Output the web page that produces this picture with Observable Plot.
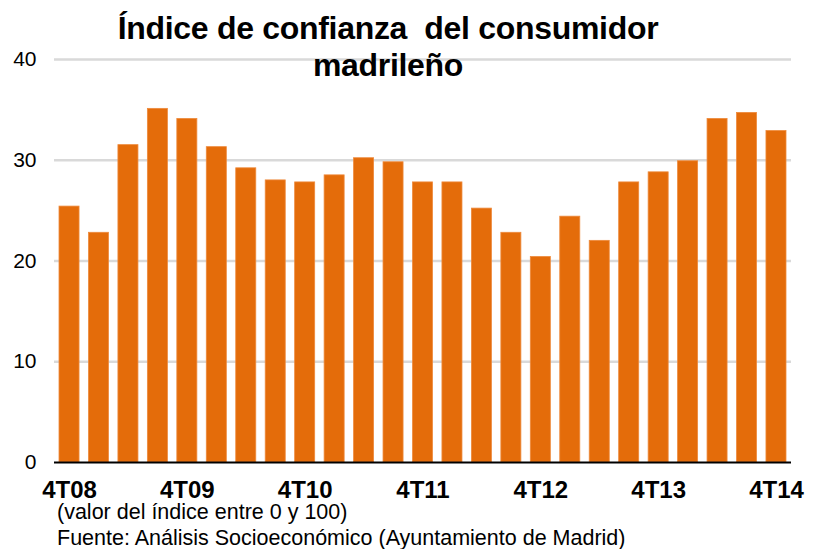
<!DOCTYPE html>
<html>
<head>
<meta charset="utf-8">
<script src="https://cdn.jsdelivr.net/npm/d3@7"></script>
<script src="https://cdn.jsdelivr.net/npm/@observablehq/plot@0.6"></script>
<style>
  html, body { margin: 0; padding: 0; background: #fff; }
  #wrap { position: relative; width: 814px; height: 549px; overflow: hidden; font-family: "Liberation Sans", Arial, sans-serif; }
  #title { position: absolute; left: 0; width: 776px; top: 10px; text-align: center; font-weight: bold; font-size: 32px; line-height: 37px; color: #000; z-index: 2; letter-spacing: -0.3px; }
  .note { position: absolute; left: 57px; font-size: 21.5px; line-height: 20px; color: #000; z-index: 2; font-family: "Liberation Sans Narrow", "Liberation Sans", sans-serif; white-space: nowrap; }
  #chart { position: absolute; left: 0; top: 0; }
</style>
</head>
<body>
<div id="wrap">
  <div id="chart"></div>
  <div id="title">Índice de confianza&nbsp; del consumidor<br>madrileño</div>
  <div class="note" style="top:502px">(valor del índice entre 0 y 100)</div>
  <div class="note" style="top:528px">Fuente: Análisis Socioeconómico (Ayuntamiento de Madrid)</div>
</div>
<script>
const quarters = ["4T08","1T09","2T09","3T09","4T09","1T10","2T10","3T10","4T10","1T11","2T11","3T11","4T11","1T12","2T12","3T12","4T12","1T13","2T13","3T13","4T13","1T14","2T14","3T14","4T14"];
const values = [25.4,22.8,31.5,35.1,34.1,31.3,29.2,28.0,27.8,28.5,30.2,29.8,27.8,27.8,25.2,22.8,20.4,24.4,22.0,27.8,28.8,29.9,34.1,34.7,32.9];
const xTickLabels = ["4T08","4T09","4T10","4T11","4T12","4T13","4T14"];
const yTicks = [0,10,20,30,40];

const data = quarters.map((q, i) => ({q, v: values[i]}));

const chart = Plot.plot({
  width: 814,
  height: 549,
  marginLeft: 54,
  marginRight: 23,
  marginTop: 59,
  marginBottom: 87,
  style: {fontFamily: "Liberation Sans, Arial, sans-serif", background: "transparent"},
  x: {domain: quarters, paddingInner: 0.32, paddingOuter: 0.17, round: false, label: null},
  y: {domain: [0, 40], label: null},
  marks: [
    Plot.ruleY(yTicks.filter(d => d > 0), {stroke: "#d9d9d9", strokeWidth: 2.5}),
    Plot.barY(data, {x: "q", y: "v", fill: "#E46C0A", stroke: "#EE8A3C", strokeWidth: 0.8}),
    Plot.ruleY([0], {stroke: "#000", strokeWidth: 2}),
    Plot.axisY({ticks: yTicks, tickSize: 0, tickPadding: 18, fontSize: 21, label: null}),
    Plot.axisX({ticks: xTickLabels, tickSize: 0, tickPadding: 18, fontSize: 24, fontWeight: "bold", fontFamily: "Liberation Sans Narrow, Liberation Sans, sans-serif", label: null})
  ]
});
document.getElementById("chart").appendChild(chart);
</script>
</body>
</html>
